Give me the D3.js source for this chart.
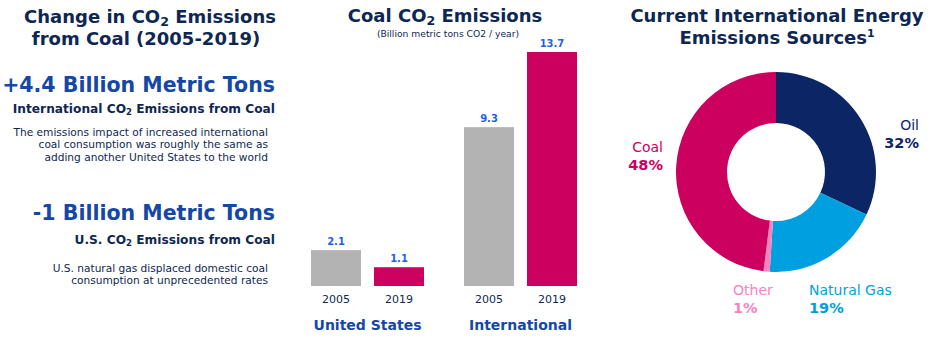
<!DOCTYPE html>
<html>
<head>
<meta charset="utf-8">
<script src="https://cdn.jsdelivr.net/npm/d3@7"></script>
<style>
  html, body { margin: 0; padding: 0; background: #fff; }
  svg { display: block; font-family: "DejaVu Sans", Verdana, sans-serif; }
</style>
</head>
<body>
<svg id="chart" width="936" height="342"></svg>
<script>
// Bar chart data: coal CO2 emissions, billion metric tons per year
const regions = ["United States", "International"];
const years = ["2005", "2019"];
const usValues = [2.1, 1.1];
const intlValues = [9.3, 13.7];

// Donut data: current international energy emissions sources (%)
const sources = ["Oil", "Natural Gas", "Other", "Coal"];
const shares = [32, 19, 1, 48];

const NAVY = "#0e2752";
const BLUE = "#1547a8";
const LABEL_BLUE = "#1f5fe8";
const GREY = "#b3b3b3";
const COAL = "#cc005e";
const yearColors = [GREY, COAL];
const sourceColors = { "Oil": "#0b2565", "Natural Gas": "#009fdf", "Other": "#f784bd", "Coal": "#cc005e" };

const svg = d3.select("#chart");

// Text line containing a subscripted "CO2"
function co2Line(g, x, y, pre, post, size, weight, color, anchor) {
  const t = g.append("text").attr("x", x).attr("y", y)
    .attr("text-anchor", anchor).attr("font-size", size)
    .attr("font-weight", weight).attr("fill", color);
  t.append("tspan").text(pre + "CO");
  t.append("tspan").attr("font-size", size * 0.7).attr("dy", size * 0.18).text("2");
  t.append("tspan").attr("dy", -size * 0.18).text(post);
  return t;
}
function plain(g, x, y, s, size, weight, color, anchor) {
  return g.append("text").attr("x", x).attr("y", y)
    .attr("text-anchor", anchor).attr("font-size", size)
    .attr("font-weight", weight).attr("fill", color).text(s);
}

// ---------- Left text panel ----------
const left = svg.append("g");
co2Line(left, 150, 23, "Change in ", " Emissions", 18, "bold", NAVY, "middle");
plain(left, 146, 45, "from Coal (2005-2019)", 18, "bold", NAVY, "middle");

plain(left, 275, 92, "+4.4 Billion Metric Tons", 20.5, "bold", BLUE, "end");
co2Line(left, 275, 113, "International ", " Emissions from Coal", 12.2, "bold", NAVY, "end");
["The emissions impact of increased international",
 "coal consumption was roughly the same as",
 "adding another United States to the world"].forEach((s, i) => {
  plain(left, 268, 136 + i * 12.3, s, 10.6, "normal", NAVY, "end");
});

plain(left, 275, 220, "-1 Billion Metric Tons", 20.5, "bold", BLUE, "end");
co2Line(left, 275, 244, "U.S. ", " Emissions from Coal", 12.2, "bold", NAVY, "end");
["U.S. natural gas displaced domestic coal",
 "consumption at unprecedented rates"].forEach((s, i) => {
  plain(left, 268, 272 + i * 12.3, s, 10.6, "normal", NAVY, "end");
});

// ---------- Middle bar chart ----------
const mid = svg.append("g");
co2Line(mid, 445, 22, "Coal ", " Emissions", 18, "bold", NAVY, "middle");
plain(mid, 448, 37, "(Billion metric tons CO2 / year)", 9.2, "normal", NAVY, "middle");

const baseY = 286;
const y = d3.scaleLinear().domain([0, 13.7]).range([baseY, 52]);
const x0 = d3.scaleBand().domain(regions).range([311, 577]).paddingInner(0.2614).paddingOuter(0);
const x1 = d3.scaleBand().domain(years).range([0, x0.bandwidth()]).paddingInner(0.206);

const barData = [];
regions.forEach((r, ri) => {
  const vals = ri === 0 ? usValues : intlValues;
  years.forEach((yr, yi) => barData.push({ region: r, year: yr, value: vals[yi], color: yearColors[yi] }));
});

const bars = mid.selectAll("g.bar").data(barData).join("g").attr("class", "bar")
  .attr("transform", d => `translate(${x0(d.region) + x1(d.year)},0)`);
bars.append("rect")
  .attr("x", 0).attr("width", x1.bandwidth())
  .attr("y", d => y(d.value)).attr("height", d => baseY - y(d.value))
  .attr("fill", d => d.color);
bars.append("text")
  .attr("x", x1.bandwidth() / 2).attr("y", d => y(d.value) - 5.5)
  .attr("text-anchor", "middle").attr("font-size", 10).attr("font-weight", "bold")
  .attr("fill", LABEL_BLUE).text(d => d.value.toFixed(1));
bars.append("text")
  .attr("x", x1.bandwidth() / 2).attr("y", 303)
  .attr("text-anchor", "middle").attr("font-size", 11)
  .attr("fill", NAVY).text(d => d.year);

mid.selectAll("text.region").data(regions).join("text").attr("class", "region")
  .attr("x", d => x0(d) + x0.bandwidth() / 2).attr("y", 330)
  .attr("text-anchor", "middle").attr("font-size", 14).attr("font-weight", "bold")
  .attr("fill", BLUE).text(d => d);

// ---------- Right donut chart ----------
const right = svg.append("g");
plain(right, 777, 22, "Current International Energy", 18, "bold", NAVY, "middle");
const t2 = plain(right, 777, 44, "Emissions Sources", 18, "bold", NAVY, "middle");
t2.append("tspan").attr("font-size", 11).attr("dy", -7).text("1");

const cx = 776, cy = 172;
const pieData = d3.pie().sort(null).value(d => d.share)(sources.map((s, i) => ({ name: s, share: shares[i] })));
const arc = d3.arc().innerRadius(49).outerRadius(100);
right.append("g").attr("transform", `translate(${cx},${cy})`)
  .selectAll("path").data(pieData).join("path")
  .attr("d", arc).attr("fill", d => sourceColors[d.data.name]);

const labelPos = {
  "Oil": [919, 130, "end"],
  "Natural Gas": [809, 295, "start"],
  "Other": [733, 295, "start"],
  "Coal": [663, 152, "end"]
};
sources.forEach((s, i) => {
  const [lx, ly, anchor] = labelPos[s];
  const c = sourceColors[s];
  plain(right, lx, ly, s, 14, "normal", c, anchor);
  plain(right, lx, ly + 17.5, shares[i] + "%", 14.5, "bold", c, anchor);
});
</script>
</body>
</html>
